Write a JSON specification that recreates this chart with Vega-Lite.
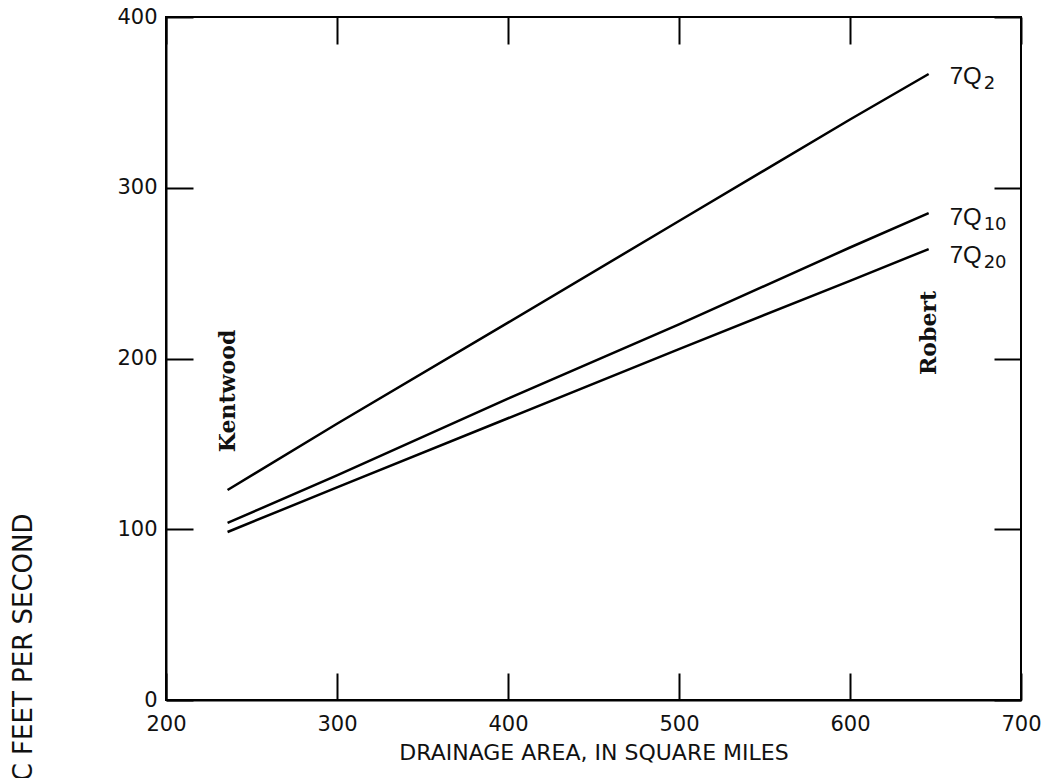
{
  "$schema": "https://vega.github.io/schema/vega-lite/v6.json",
  "width": 855,
  "height": 683,
  "autosize": "none",
  "padding": {"left": 166, "top": 17, "right": 29, "bottom": 78},
  "background": "white",
  "config": {
    "view": {"stroke": "black", "strokeWidth": 2},
    "font": "DejaVu Sans",
    "axis": {
      "domainColor": "black",
      "domainWidth": 2,
      "tickColor": "black",
      "tickWidth": 2,
      "tickSize": -27,
      "labelColor": "#111",
      "labelFont": "DejaVu Sans",
      "labelFontSize": 21,
      "labelFlush": false,
      "labelOverlap": false,
      "grid": false,
      "titleColor": "#111",
      "titleFont": "DejaVu Sans",
      "titleFontWeight": "normal"
    }
  },
  "datasets": {
    "lines": [
      {"series": "7Q2", "area": 236, "q": 123},
      {"series": "7Q2", "area": 300, "q": 161.8},
      {"series": "7Q2", "area": 400, "q": 221},
      {"series": "7Q2", "area": 500, "q": 280.5},
      {"series": "7Q2", "area": 600, "q": 340},
      {"series": "7Q2", "area": 646, "q": 366.6},
      {"series": "7Q10", "area": 236, "q": 103.7},
      {"series": "7Q10", "area": 300, "q": 131.5},
      {"series": "7Q10", "area": 400, "q": 176.5},
      {"series": "7Q10", "area": 500, "q": 220},
      {"series": "7Q10", "area": 600, "q": 265},
      {"series": "7Q10", "area": 646, "q": 285.2},
      {"series": "7Q20", "area": 236, "q": 98.4},
      {"series": "7Q20", "area": 300, "q": 124.5},
      {"series": "7Q20", "area": 400, "q": 165},
      {"series": "7Q20", "area": 500, "q": 205.5},
      {"series": "7Q20", "area": 600, "q": 245.5},
      {"series": "7Q20", "area": 646, "q": 264.1}
    ],
    "labels": [
      {"series": "7Q2", "area": 646, "q": 365, "main": "7Q", "sub": "2"},
      {"series": "7Q10", "area": 646, "q": 282.3, "main": "7Q", "sub": "10"},
      {"series": "7Q20", "area": 646, "q": 260, "main": "7Q", "sub": "20"}
    ],
    "stations": [
      {"name": "Kentwood", "area": 236, "q": 181},
      {"name": "Robert", "area": 646, "q": 215}
    ]
  },
  "layer": [
    {
      "data": {"name": "lines"},
      "mark": {"type": "line", "color": "black", "strokeWidth": 2.5},
      "encoding": {
        "x": {
          "field": "area", "type": "quantitative",
          "scale": {"domain": [200, 700], "nice": false, "zero": false},
          "axis": {
            "orient": "bottom",
            "values": [200, 300, 400, 500, 600, 700],
            "labelPadding": 40,
            "title": "DRAINAGE AREA, IN SQUARE MILES",
            "titleFontSize": 22,
            "titleY": 52,
            "titleBaseline": "middle"
          }
        },
        "y": {
          "field": "q", "type": "quantitative",
          "scale": {"domain": [0, 400], "nice": false},
          "axis": {
            "orient": "left",
            "values": [0, 100, 200, 300, 400],
            "labelPadding": 36,
            "title": "DISCHARGE, IN CUBIC FEET PER SECOND",
            "titleFontSize": 26,
            "titleAngle": -90,
            "titleAlign": "right",
            "titleBaseline": "middle",
            "titleX": -143,
            "titleY": 496
          }
        },
        "detail": {"field": "series"}
      }
    },
    {
      "data": {"name": "labels"},
      "mark": {"type": "text", "align": "left", "baseline": "middle", "dx": 21, "fontSize": 24, "font": "Liberation Sans", "color": "#111"},
      "encoding": {
        "x": {
          "field": "area", "type": "quantitative",
          "axis": {"orient": "top", "values": [200, 300, 400, 500, 600, 700], "labels": false, "title": null, "domain": false}
        },
        "y": {
          "field": "q", "type": "quantitative",
          "axis": {"orient": "right", "values": [0, 100, 200, 300, 400], "labels": false, "title": null, "domain": false}
        },
        "text": {"field": "main"}
      }
    },
    {
      "data": {"name": "labels"},
      "mark": {"type": "text", "align": "left", "baseline": "middle", "dx": 55, "dy": 7, "fontSize": 18, "font": "DejaVu Sans", "color": "#111"},
      "encoding": {
        "x": {"field": "area", "type": "quantitative", "axis": null},
        "y": {"field": "q", "type": "quantitative", "axis": null},
        "text": {"field": "sub"}
      }
    },
    {
      "data": {"name": "stations"},
      "mark": {"type": "text", "angle": 270, "align": "center", "baseline": "middle", "fontSize": 22, "font": "DejaVu Serif", "fontWeight": "bold", "color": "#111"},
      "encoding": {
        "x": {"field": "area", "type": "quantitative", "axis": null},
        "y": {"field": "q", "type": "quantitative", "axis": null},
        "text": {"field": "name"}
      }
    }
  ],
  "resolve": {"axis": {"x": "independent", "y": "independent"}}
}
